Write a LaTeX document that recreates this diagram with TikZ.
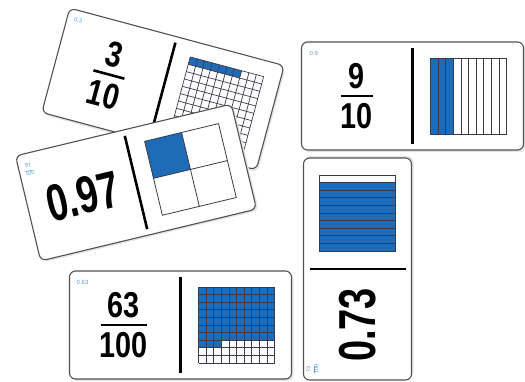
\documentclass[tikz,border=0pt]{standalone}
\usepackage{fontspec}
\setmainfont{Liberation Sans}
\newfontfamily\fraccond[FakeStretch=0.8]{Liberation Sans Bold}
\newfontfamily\deccond[FakeStretch=0.73]{Liberation Sans Bold}

\definecolor{cardedge}{HTML}{555050}
\definecolor{tileblue}{HTML}{1E6BB8}
\definecolor{tagblue}{HTML}{5B9BD8}
\definecolor{gridline}{HTML}{3C3A48}

\newcommand{\fracfont}{\fraccond\fontsize{36}{40}\selectfont}
\newcommand{\decfont}{\deccond\fontsize{52}{56}\selectfont}

\begin{document}
\begin{tikzpicture}[
    x=1pt, y=-1pt,
    card/.style={draw=cardedge, fill=white, line width=1.1pt, rounded corners=6pt},
    cardshadow/.style={fill=black!10, rounded corners=6pt},
    divider/.style={line width=2.6pt},
    fracbar/.style={line width=2.6pt},
    fracnum/.style={font=\fracfont, inner sep=0pt, transform shape},
    decnum/.style={font=\decfont, inner sep=0pt, transform shape},
    tag/.style={font=\fontsize{6}{6}\selectfont, text=tagblue, inner sep=0pt, anchor=west, transform shape},
    tagfrac/.style={font=\fontsize{5.5}{5}\selectfont, text=tagblue, inner sep=0pt, align=center, transform shape},
    cell/.style={draw=gridline, line width=0.7pt},
    strip/.style={draw=gridline, line width=0.8pt},
]
\useasboundingbox (0,0) rectangle (525,381);

% card 3/10 (under the 0.97 card)
\begin{scope}[shift={(163,89)}, rotate=-15]
  \fill[cardshadow] (-109,-52) rectangle (113,56);
  \draw[card] (-111,-54) rectangle (111,54);
  \node[tag] (tag1) at (-104,-44) {0.3};
  \node[fracnum] (num1) at (-56,-21) {3};
  \draw[fracbar] (-72,0) -- (-40,0);
  \node[fracnum] (den1) at (-56,21) {10};
  \draw[divider] (0,-48) -- (0,48);
  \foreach \i in {0,...,6}
    \fill[tileblue] ({18+7.6*\i},-38) rectangle ++(7.6,7.6);
  \foreach \k in {0,...,10} {
    \draw[cell] ({18+7.6*\k},-38) -- ++(0,76);
    \draw[cell] (18,{-38+7.6*\k}) -- ++(76,0);
  }
\end{scope}

% card 0.97
\begin{scope}[shift={(136,182.5)}, rotate=13.5]
  \fill[cardshadow] (-109,-52) rectangle (113,56);
  \draw[card] (-111,-54) rectangle (111,54);
  \node[tagfrac] (tag2) at (-101,-38) {97\\[-1pt]\rule{7pt}{0.4pt}\\[-1pt]100};
  \node[decnum] (dec2) at (-55,1) {0.97};
  \draw[divider] (0,-48) -- (0,48);
  \fill[tileblue] (18,-38) rectangle (56,0);
  \draw[strip] (18,-38) rectangle (94,38) (56,-38) -- (56,38) (18,0) -- (94,0);
\end{scope}

% card 9/10
\begin{scope}[shift={(412.5,96)}]
  \fill[cardshadow] (-109,-52) rectangle (113,56);
  \draw[card] (-111,-54) rectangle (111,54);
  \node[tag] (tag3) at (-103,-43) {0.9};
  \node[fracnum] (num3) at (-56,-20) {9};
  \draw[fracbar] (-72,0) -- (-40,0);
  \node[fracnum] (den3) at (-56,20) {10};
  \draw[divider] (0,-48) -- (0,48);
  \fill[tileblue] (18,-38) rectangle ++(22.8,76);
  \foreach \k in {0,...,10}
    \draw[strip] ({18+7.6*\k},-38) -- ++(0,76);
  \draw[strip] (18,-38) rectangle (94,38);
\end{scope}

% card 0.73 (standing up)
\begin{scope}[shift={(357.5,269)}, rotate=90]
  \fill[cardshadow] (-109,-52) rectangle (113,56);
  \draw[card] (-111,-54) rectangle (111,54);
  \node[tagfrac] (tag4) at (-100,-45) {73\\[-1pt]\rule{7pt}{0.4pt}\\[-1pt]100};
  \node[decnum] (dec4) at (-56,0) {0.73};
  \draw[divider] (0,-48) -- (0,48);
  \fill[tileblue] (18,-38) rectangle ++(68.4,76);
  \foreach \k in {0,...,10}
    \draw[strip] ({18+7.6*\k},-38) -- ++(0,76);
  \draw[strip] (18,-38) rectangle (94,38);
\end{scope}

% card 63/100
\begin{scope}[shift={(180.5,325)}]
  \fill[cardshadow] (-109,-52) rectangle (113,56);
  \draw[card] (-111,-54) rectangle (111,54);
  \node[tag] (tag5) at (-104,-43) {0.63};
  \node[fracnum] (num5) at (-57,-20) {63};
  \draw[fracbar] (-80,0) -- (-34,0);
  \node[fracnum] (den5) at (-57,20) {100};
  \draw[divider] (0,-48) -- (0,48);
  \fill[tileblue] (18,-38) rectangle (94,15.2);
  \fill[tileblue] (18,15.2) rectangle ++(22.8,7.6);
  \foreach \k in {0,...,10} {
    \draw[cell] ({18+7.6*\k},-38) -- ++(0,76);
    \draw[cell] (18,{-38+7.6*\k}) -- ++(76,0);
  }
\end{scope}
\end{tikzpicture}
\end{document}
